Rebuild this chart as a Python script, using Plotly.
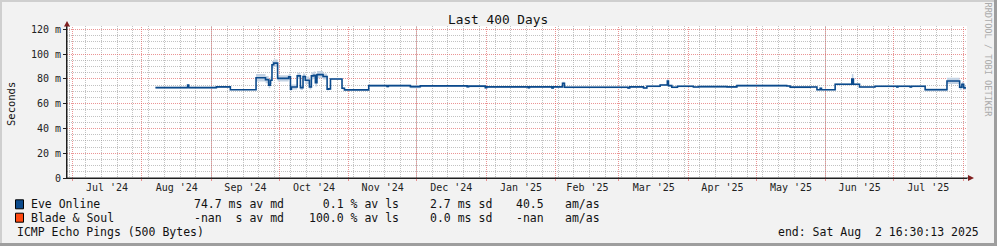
import plotly.graph_objects as go
import pandas as pd

# ---------------- data ----------------
eve_time = [
    "2024-08-07 00:00", "2024-08-21 07:00", "2024-08-21 19:00", "2024-09-03 02:00",
    "2024-09-09 07:00", "2024-09-20 17:00", "2024-09-24 22:00", "2024-09-26 07:00",
    "2024-09-27 02:00", "2024-09-27 19:00", "2024-09-28 14:00", "2024-09-30 07:00",
    "2024-10-05 05:00", "2024-10-06 00:00", "2024-10-06 10:00", "2024-10-09 00:00",
    "2024-10-10 10:00", "2024-10-11 14:00", "2024-10-12 14:00", "2024-10-14 10:00",
    "2024-10-15 07:00", "2024-10-16 07:00", "2024-10-17 02:00", "2024-10-17 19:00",
    "2024-10-20 12:00", "2024-10-22 07:00", "2024-10-23 00:00", "2024-10-23 19:00",
    "2024-10-28 22:00", "2024-10-30 00:00", "2024-11-09 19:00", "2024-11-17 22:00",
    "2024-11-18 12:00", "2024-11-28 07:00", "2024-12-02 17:00", "2024-12-23 12:00",
    "2024-12-24 05:00", "2024-12-31 14:00", "2025-01-01 05:00", "2025-01-19 17:00",
    "2025-01-20 05:00", "2025-01-30 05:00", "2025-01-30 19:00", "2025-02-03 22:00",
    "2025-02-04 19:00", "2025-03-05 00:00", "2025-03-05 19:00", "2025-03-11 22:00",
    "2025-03-13 10:00", "2025-03-19 07:00", "2025-03-22 12:00", "2025-03-23 00:00",
    "2025-03-24 12:00", "2025-03-27 00:00", "2025-04-03 02:00", "2025-04-05 10:00",
    "2025-04-18 00:00", "2025-04-22 10:00", "2025-05-14 14:00", "2025-05-16 02:00",
    "2025-05-25 00:00", "2025-05-28 00:00", "2025-05-29 10:00", "2025-05-30 00:00",
    "2025-06-05 02:00", "2025-06-12 12:00", "2025-06-13 05:00", "2025-06-15 22:00",
    "2025-06-22 19:00", "2025-07-02 12:00", "2025-07-03 00:00", "2025-07-08 10:00",
    "2025-07-09 00:00", "2025-07-15 02:00", "2025-07-24 19:00", "2025-07-30 10:00",
    "2025-07-31 10:00", "2025-08-01 05:00", "2025-08-02 05:00",
]
eve_median_ms = [
    73.0, 75.0, 73.0, 73.6,
    71.3, 81.0, 79.5, 75.0,
    79.0, 91.5, 92.8, 80.5,
    81.8, 71.7, 73.5, 82.5,
    73.0, 82.0, 79.0, 73.5,
    82.5, 83.0, 77.0, 83.5,
    82.0, 71.7, 72.0, 80.0,
    72.5, 71.2, 74.6, 74.0,
    74.6, 73.8, 74.4, 73.8,
    74.2, 73.0, 73.6, 72.9,
    73.6, 72.8, 73.6, 76.5,
    73.3, 72.8, 73.6, 72.7,
    74.1, 75.1, 78.4, 74.6,
    73.3, 74.1, 73.5, 73.8,
    73.6, 74.6, 74.3, 73.4,
    73.5, 71.3, 72.5, 71.3,
    75.7, 80.0, 75.7, 73.5,
    74.1, 73.5, 74.1, 73.5,
    74.1, 71.3, 78.4, 73.3,
    75.7, 72.8, 72.8,
]
eve_smoke_ms = [  # half-spread of the smoke band around the median
    0.7, 0.8, 0.7, 0.8,
    0.5, 3.0, 3.0, 2.5,
    3.0, 3.0, 3.0, 2.5,
    2.5, 1.5, 2.0, 2.5,
    2.0, 2.5, 3.0, 2.0,
    3.0, 3.0, 3.0, 3.0,
    2.5, 1.0, 1.0, 0.8,
    0.8, 0.5, 0.8, 0.8,
    0.8, 1.2, 0.8, 1.0,
    0.8, 0.8, 0.8, 0.8,
    0.8, 0.8, 0.8, 1.2,
    0.8, 0.8, 0.8, 0.8,
    0.8, 0.8, 1.5, 0.8,
    0.8, 0.8, 0.8, 0.8,
    0.8, 0.8, 0.8, 0.8,
    0.8, 0.6, 0.6, 0.6,
    0.8, 4.0, 0.8, 0.8,
    0.8, 0.8, 0.8, 0.8,
    0.8, 1.2, 2.5, 2.0,
    2.0, 1.5, 1.5,
]
y_tick_vals = [0, 20, 40, 60, 80, 100, 120]
y_tick_text = ["0", "20 m", "40 m", "60 m", "80 m", "100 m", "120 m"]
month_labels = ["Jul '24", "Aug '24", "Sep '24", "Oct '24", "Nov '24", "Dec '24", "Jan '25",
                "Feb '25", "Mar '25", "Apr '25", "May '25", "Jun '25", "Jul '25"]
legend_rows = [
    ["Eve Online", "74.7 ms av md", "  0.1 % av ls", "2.7 ms sd", "40.5", "am/as"],
    ["Blade & Soul", "-nan  s av md", "100.0 % av ls", "0.0 ms sd", "-nan", "am/as"],
]
legend_colors = ["#0B4A8C", "#FF4A12"]
range_start, range_end = "2024-06-28 16:30:13", "2025-08-02 16:30:13"

# ---------------- geometry ----------------
W, H = 997, 246
ML, MR, MT, MB = 67, 30, 26, 68
PW, PH = W - ML - MR, H - MT - MB
BOTTOM = MT + PH
FONT = "DejaVu Sans Mono"
Y_MAX = 122.8


def px(x):
    return (x - ML) / PW


def py(y):
    return (BOTTOM - y) / PH


def nb(s):
    return s.replace(" ", "\u00a0")


t0, t1 = pd.Timestamp(range_start), pd.Timestamp(range_end)


def snap_date(d):
    # nudge a date onto a pixel centre so the dotted line is crisp
    p = ML + (pd.Timestamp(d) - t0) / (t1 - t0) * PW
    return t0 + (int(p) + 0.5 - ML) / PW * (t1 - t0)


def snap_val(v):
    p = BOTTOM - v / Y_MAX * PH
    return (BOTTOM - (int(p) + 0.5)) / PH * Y_MAX


smoke_hi = [m + s for m, s in zip(eve_median_ms, eve_smoke_ms)]
smoke_lo = [m - s for m, s in zip(eve_median_ms, eve_smoke_ms)]

month_starts = pd.date_range("2024-07-01", "2025-08-01", freq="MS")
mids = [month_starts[i] + (month_starts[i + 1] - month_starts[i]) / 2 for i in range(len(month_starts) - 1)]
weeks = pd.date_range("2024-06-30", "2025-08-02", freq="7D")
y_minor = [v for v in range(5, 125, 5) if v % 20 != 0]

GRID_MINOR = "rgba(143,143,143,0.55)"
GRID_MAJOR = "rgba(222,79,79,0.6)"
AXIS = "#1F1F1F"
ARROW = "#801F1F"

fig = go.Figure()
# major grid drawn as dotted line traces (month starts, every 20 m) under the data
vx, vy = [], []
for d in month_starts:
    if t0 < d < t1:
        sd = snap_date(d)
        vx += [sd, sd, None]
        vy += [0, Y_MAX, None]
fig.add_trace(go.Scatter(x=vx, y=vy, mode="lines", hoverinfo="skip", showlegend=False,
                         line=dict(color=GRID_MAJOR, width=1, dash="1px,1px")))
hx, hy = [], []
for v in y_tick_vals[1:]:
    sv = snap_val(v)
    hx += [t0, t1, None]
    hy += [sv, sv, None]
fig.add_trace(go.Scatter(x=hx, y=hy, mode="lines", hoverinfo="skip", showlegend=False,
                         line=dict(color=GRID_MAJOR, width=1, dash="1px,1px")))

fig.add_trace(go.Scatter(x=eve_time, y=smoke_hi, mode="lines", line=dict(width=0, shape="hv"),
                         hoverinfo="skip", showlegend=False))
fig.add_trace(go.Scatter(x=eve_time, y=smoke_lo, mode="lines", line=dict(width=0, shape="hv"),
                         fill="tonexty", fillcolor="#C4D3E4", hoverinfo="skip", showlegend=False))
fig.add_trace(go.Scatter(x=eve_time, y=eve_median_ms, mode="lines",
                         line=dict(color="#0B4A8C", width=1.6, shape="hv"), showlegend=False))

fig.update_layout(
    width=W, height=H,
    margin=dict(l=ML, r=MR, t=MT, b=MB, pad=0),
    paper_bgcolor="#F2F2F2", plot_bgcolor="#FFFFFF",
    font=dict(family=FONT, size=10, color="#222222"),
    showlegend=False,
    xaxis=dict(
        type="date", range=[range_start, range_end],
        tickmode="array", tickvals=mids, ticktext=month_labels,
        ticks="", showgrid=False, zeroline=False,
        showline=True, linecolor=AXIS, linewidth=1,
        tickfont=dict(family=FONT, size=10, color="#222222"),
        minor=dict(tickmode="array", tickvals=list(weeks), showgrid=True,
                   gridcolor=GRID_MINOR, griddash="1px,1px", gridwidth=1, ticks=""),
    ),
    yaxis=dict(
        range=[0, Y_MAX], tickmode="array", tickvals=y_tick_vals, ticktext=y_tick_text,
        ticks="outside", ticklen=3, tickcolor=AXIS,
        showgrid=False, zeroline=False, showline=True, linecolor=AXIS, linewidth=1,
        tickfont=dict(family=FONT, size=10, color="#222222"),
        minor=dict(tickmode="array", tickvals=y_minor, showgrid=True,
                   gridcolor=GRID_MINOR, griddash="1px,1px", ticks=""),
    ),
)

shapes = []
# red tick marks under the time axis at month starts
for d in month_starts:
    if t0 < d < t1:
        xp = (snap_date(d) - t0) / (t1 - t0)
        shapes.append(dict(type="line", xref="paper", yref="paper", x0=xp, x1=xp, y0=py(BOTTOM + 3),
                           y1=py(BOTTOM + 0.5), line=dict(color=GRID_MAJOR, width=1), layer="above"))
# frame shading
shapes.append(dict(type="rect", xref="paper", yref="paper", x0=px(0), x1=px(W), y0=py(0), y1=py(2),
                   fillcolor="#CFCFCF", line=dict(width=0), layer="below"))
shapes.append(dict(type="rect", xref="paper", yref="paper", x0=px(0), x1=px(2), y0=py(0), y1=py(H),
                   fillcolor="#CFCFCF", line=dict(width=0), layer="below"))
shapes.append(dict(type="rect", xref="paper", yref="paper", x0=px(0), x1=px(W), y0=py(H - 3), y1=py(H),
                   fillcolor="#9E9E9E", line=dict(width=0), layer="below"))
shapes.append(dict(type="rect", xref="paper", yref="paper", x0=px(W - 3), x1=px(W), y0=py(0), y1=py(H),
                   fillcolor="#9E9E9E", line=dict(width=0), layer="below"))
# axis extensions + arrows
shapes.append(dict(type="line", xref="paper", yref="paper", x0=px(ML), x1=px(ML), y0=py(BOTTOM), y1=py(24),
                   line=dict(color=AXIS, width=1)))
shapes.append(dict(type="line", xref="paper", yref="paper", x0=px(ML), x1=px(970), y0=py(BOTTOM), y1=py(BOTTOM),
                   line=dict(color=AXIS, width=1)))
shapes.append(dict(type="path", xref="paper", yref="paper",
                   path=f"M {px(64)} {py(26.5)} L {px(70)} {py(26.5)} L {px(67)} {py(21)} Z",
                   fillcolor=ARROW, line=dict(width=0)))
shapes.append(dict(type="path", xref="paper", yref="paper",
                   path=f"M {px(968)} {py(175)} L {px(968)} {py(181)} L {px(974)} {py(178)} Z",
                   fillcolor=ARROW, line=dict(width=0)))
# legend boxes
row_y = [204.3, 217.7]
for c, ry in zip(legend_colors, row_y):
    shapes.append(dict(type="rect", xref="paper", yref="paper", x0=px(15.5), x1=px(23.5),
                       y0=py(ry - 4.5), y1=py(ry + 4.5), fillcolor=c, line=dict(color="#000000", width=1)))
fig.update_layout(shapes=shapes)

ann = []
ann.append(dict(text="Last 400 Days", x=px(498), y=py(19.5), xref="paper", yref="paper",
                showarrow=False, xanchor="center", yanchor="middle",
                font=dict(family=FONT, size=12.8, color="#111111")))
ann.append(dict(text="Seconds", x=px(11), y=py(104), xref="paper", yref="paper", textangle=-90,
                showarrow=False, xanchor="center", yanchor="middle",
                font=dict(family=FONT, size=10.5, color="#111111")))
ann.append(dict(text=nb("RRDTOOL / TOBI OETIKER"), x=px(987.5), y=py(60), xref="paper", yref="paper",
                textangle=90, showarrow=False, xanchor="center", yanchor="middle",
                font=dict(family=FONT, size=8.6, color="#ABABAB")))
col_x = [30, 193.3, 307.5, 429, 514.5, 564]
LF = dict(family=FONT, size=11.5, color="#111111")
for row, ry in zip(legend_rows, row_y):
    for txt, cx in zip(row, col_x):
        ann.append(dict(text=nb(txt), x=px(cx), y=py(ry), xref="paper", yref="paper",
                        showarrow=False, xanchor="left", yanchor="middle", font=LF))
ann.append(dict(text=nb("ICMP Echo Pings (500 Bytes)"), x=px(16), y=py(232), xref="paper", yref="paper",
                showarrow=False, xanchor="left", yanchor="middle", font=LF))
ann.append(dict(text=nb("end: Sat Aug  2 16:30:13 2025"), x=px(980.5), y=py(232), xref="paper", yref="paper",
                showarrow=False, xanchor="right", yanchor="middle", font=LF))
for a in ann:
    a["borderpad"] = 0
fig.update_layout(annotations=ann)

fig.write_html("out.html")
